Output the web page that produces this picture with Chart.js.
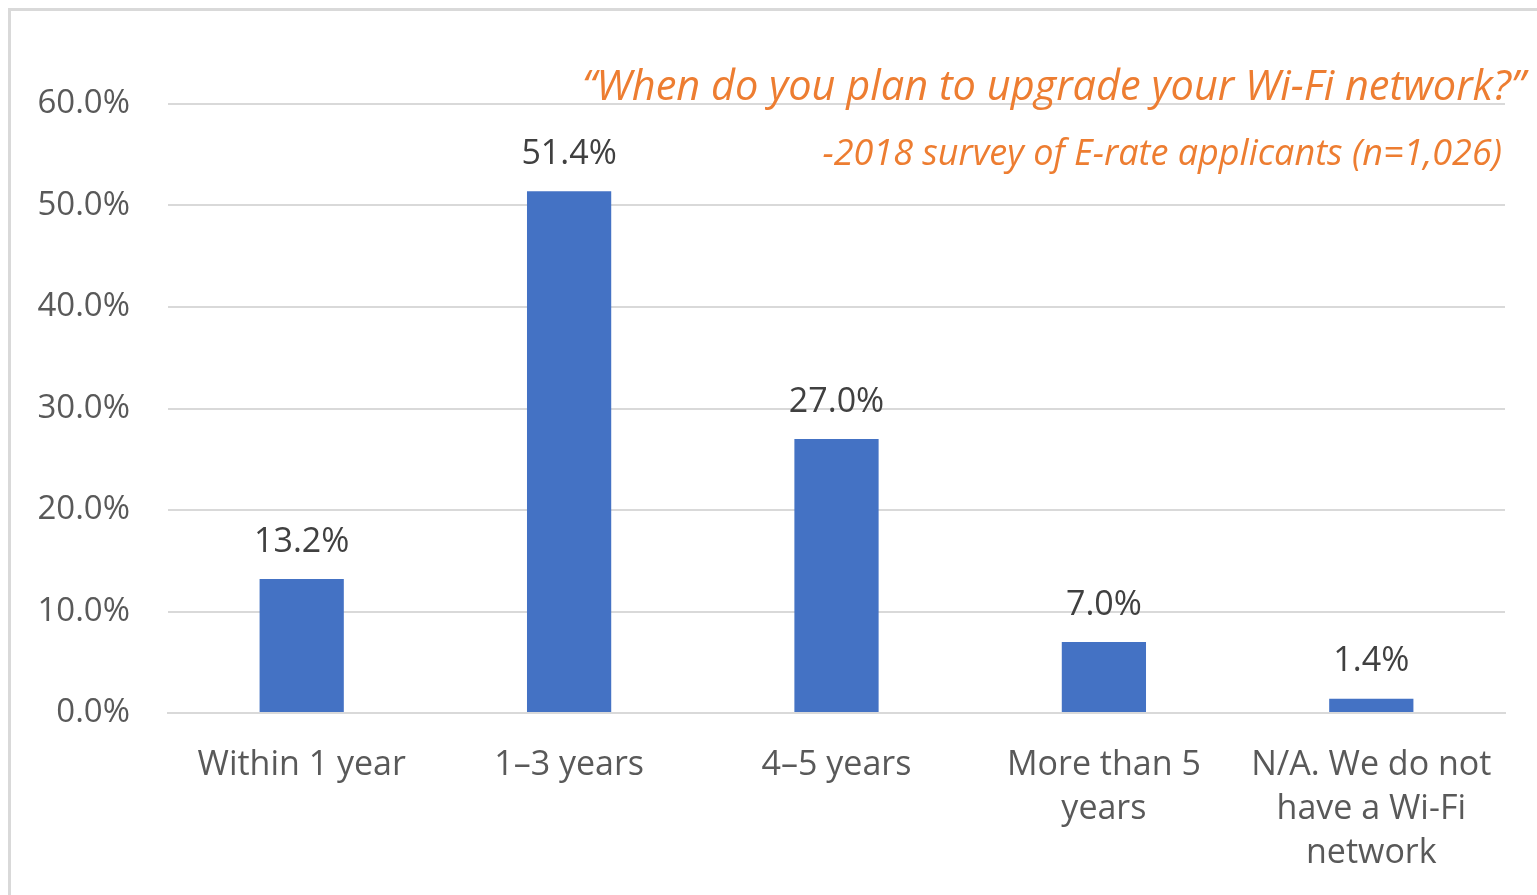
<!DOCTYPE html>
<html>
<head>
<meta charset="utf-8">
<script src="https://cdn.jsdelivr.net/npm/chart.js@4.4.1/dist/chart.umd.min.js"></script>
<style>
  html, body { margin: 0; padding: 0; background: #fff; }
  #wrap { position: relative; width: 1537px; height: 895px; overflow: hidden; }
  #frame { position: absolute; left: 8px; top: 8px; right: -4px; bottom: -4px;
           border-left: 3px solid #d9d9d9; border-top: 3px solid #d9d9d9; }
  canvas { position: absolute; left: 0; top: 0; }
</style>
</head>
<body>
<div id="wrap">
  <div id="frame"></div>
  <canvas id="wifiChart" width="1537" height="895"></canvas>
</div>
<script>
const categories = [
  'Within 1 year',
  '1\u20133 years',
  '4\u20135 years',
  ['More than 5', 'years'],
  ['N/A. We do not', 'have a Wi-Fi', 'network']
];
const shares = [13.2, 51.4, 27.0, 7.0, 1.4];
const yTicks = [0, 10, 20, 30, 40, 50, 60];

const titleText = '\u201CWhen do you plan to upgrade your Wi-Fi network?\u201D';
const subtitleText = '-2018 survey of E-rate applicants (n=1,026)';

const FONT = '"Open Sans", "Noto Sans", sans-serif';

// value above each bar
const valueLabels = {
  id: 'valueLabels',
  afterDatasetsDraw(chart) {
    const ctx = chart.ctx;
    const meta = chart.getDatasetMeta(0);
    ctx.save();
    ctx.font = '34px ' + FONT;
    ctx.fillStyle = '#404040';
    ctx.textAlign = 'center';
    ctx.textBaseline = 'middle';
    meta.data.forEach((bar, i) => {
      ctx.fillText(shares[i].toFixed(1) + '%', bar.x, bar.y - 37);
    });
    ctx.restore();
  }
};

// orange quote in the top right corner
const quoteText = {
  id: 'quoteText',
  afterDraw(chart) {
    const ctx = chart.ctx;
    ctx.save();
    ctx.fillStyle = '#ED7D31';
    ctx.textAlign = 'right';
    ctx.textBaseline = 'alphabetic';
    ctx.font = 'italic 41.5px ' + FONT;
    ctx.fillText(titleText, 1525, 100);
    ctx.font = 'italic 36px ' + FONT;
    ctx.fillText(subtitleText, 1502, 165);
    ctx.restore();
  }
};

new Chart(document.getElementById('wifiChart').getContext('2d'), {
  type: 'bar',
  data: {
    labels: categories,
    datasets: [{
      data: shares,
      backgroundColor: '#4472C4',
      barPercentage: 0.315,
      categoryPercentage: 1
    }]
  },
  options: {
    responsive: false,
    animation: false,
    layout: { padding: { top: 104, right: 32, bottom: 0, left: 0 } },
    plugins: {
      legend: { display: false },
      tooltip: { enabled: false }
    },
    scales: {
      x: {
        grid: { display: false },
        border: { color: '#d9d9d9', width: 2 },
        ticks: {
          color: '#595959',
          font: { family: FONT, size: 34, lineHeight: 1.3 },
          padding: 22,
          maxRotation: 0,
          autoSkip: false
        },
        afterFit(scale) { scale.height = 182; }
      },
      y: {
        min: yTicks[0],
        max: yTicks[yTicks.length - 1],
        afterBuildTicks(scale) { scale.ticks = yTicks.map(v => ({ value: v })); },
        grid: { color: '#d9d9d9', lineWidth: 2, drawTicks: false },
        border: { display: false },
        ticks: {
          color: '#595959',
          font: { family: FONT, size: 33 },
          padding: 38,
          callback: v => v.toFixed(1) + '%'
        },
        afterFit(scale) { scale.width = 168; }
      }
    }
  },
  plugins: [valueLabels, quoteText]
});
</script>
</body>
</html>
